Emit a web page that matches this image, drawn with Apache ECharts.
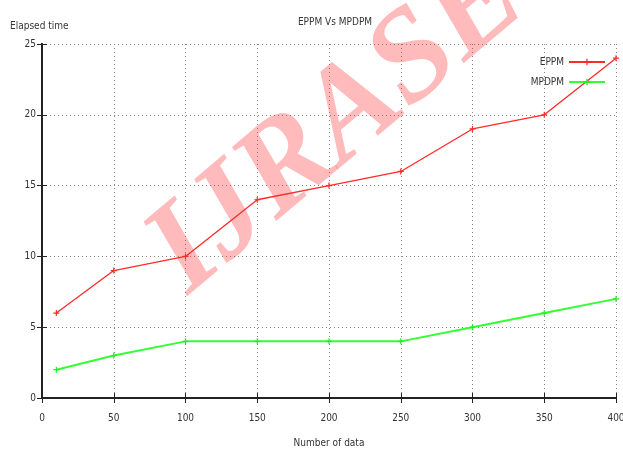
<!DOCTYPE html>
<html>
<head>
<meta charset="utf-8">
<script src="https://cdn.jsdelivr.net/npm/echarts@6/dist/echarts.min.js"></script>
<style>
  html, body { margin: 0; padding: 0; background: #fff; }
  #main { width: 623px; height: 450px; }
</style>
</head>
<body>
<div id="main"></div>
<script>
// data
var xData = [10, 50, 100, 150, 200, 250, 300, 350, 400];
var eppm = [6, 9, 10, 14, 15, 16, 19, 20, 24];
var mpdpm = [2, 3, 4, 4, 4, 4, 5, 6, 7];
var xTicks = [0, 50, 100, 150, 200, 250, 300, 350, 400];
var yTicks = [0, 5, 10, 15, 20, 25];

var font = "'Liberation Sans Narrow', 'DejaVu Sans Condensed', sans-serif";
var plusMark = 'path://M4,0H6V4H10V6H6V10H4V6H0V4H4Z';

function pairs(xs, ys) {
  return xs.map(function (x, i) { return [x, ys[i]]; });
}

var chart = echarts.init(document.getElementById('main'));

//坐标轴公共样式
var axisLine = { lineStyle: { color: '#222', width: 2 } };
var gridLine = { show: true, lineStyle: { color: '#888', type: [1, 3], width: 1 } };
var labelStyle = { fontFamily: font, fontSize: 10, color: '#333' };

chart.setOption({
  animation: false,
  title: {
    text: 'EPPM Vs MPDPM',
    left: 330,
    textAlign: 'center',
    top: 12,
    textStyle: { fontFamily: font, fontSize: 10, fontWeight: 'normal', color: '#333' }
  },
  graphic: [
    {
      type: 'text',
      left: 10,
      top: 21,
      style: { text: 'Elapsed time', fontFamily: font, fontSize: 10, fill: '#333' }
    },
    {
      type: 'text',
      z: 1,
      x: 368,
      y: 100,
      rotation: 0.7,
      style: {
        text: 'IJRASET',
        fontFamily: "'Liberation Serif', serif",
        fontWeight: 'bold',
        fontStyle: 'italic',
        fontSize: 130,
        fill: 'rgba(255, 50, 50, 0.33)',
        align: 'center',
        verticalAlign: 'middle'
      }
    }
  ],
  legend: {
    orient: 'vertical',
    right: 12,
    top: 52,
    align: 'right',
    itemWidth: 36,
    itemHeight: 8,
    itemGap: 10,
    textStyle: labelStyle,
    data: ['EPPM', 'MPDPM']
  },
  grid: { left: 42, right: 7, top: 44, bottom: 52, outerBoundsMode: 'none' },
  xAxis: [
    {
      type: 'value',
      min: 0,
      max: 400,
      interval: 50,
      name: 'Number of data',
      nameLocation: 'middle',
      nameGap: 40,
      nameTextStyle: labelStyle,
      axisLine: axisLine,
      axisTick: { inside: true, length: 5, lineStyle: { color: '#222' } },
      axisLabel: Object.assign({ margin: 15, showMaxLabel: true }, labelStyle),
      splitLine: gridLine
    },
    {
      type: 'value',
      position: 'top',
      min: 0,
      max: 400,
      interval: 50,
      axisLine: axisLine,
      axisTick: { inside: true, length: 5, lineStyle: { color: '#222' } },
      axisLabel: { show: false },
      splitLine: { show: false }
    }
  ],
  yAxis: [
    {
      type: 'value',
      min: 0,
      max: 25,
      interval: 5,
      axisLine: Object.assign({ show: true }, axisLine),
      axisTick: { show: true, inside: true, length: 5, lineStyle: { color: '#222' } },
      axisLabel: Object.assign({ margin: 6 }, labelStyle),
      splitLine: gridLine
    },
    {
      type: 'value',
      position: 'right',
      min: 0,
      max: 25,
      interval: 5,
      axisLine: Object.assign({ show: true }, axisLine),
      axisTick: { show: true, inside: true, length: 5, lineStyle: { color: '#222' } },
      axisLabel: { show: false },
      splitLine: { show: false }
    }
  ],
  series: [
    {
      name: 'EPPM',
      type: 'line',
      z: 3,
      data: pairs(xData, eppm),
      symbol: plusMark,
      symbolSize: 6,
      showAllSymbol: true,
      itemStyle: { color: '#ff2a2a' },
      lineStyle: { color: '#ff2a2a', width: 1.3 }
    },
    {
      name: 'MPDPM',
      type: 'line',
      z: 3,
      data: pairs(xData, mpdpm),
      symbol: plusMark,
      symbolSize: 6,
      showAllSymbol: true,
      itemStyle: { color: '#22ee22' },
      lineStyle: { color: '#33ff33', width: 2 }
    }
  ]
});
</script>
</body>
</html>
